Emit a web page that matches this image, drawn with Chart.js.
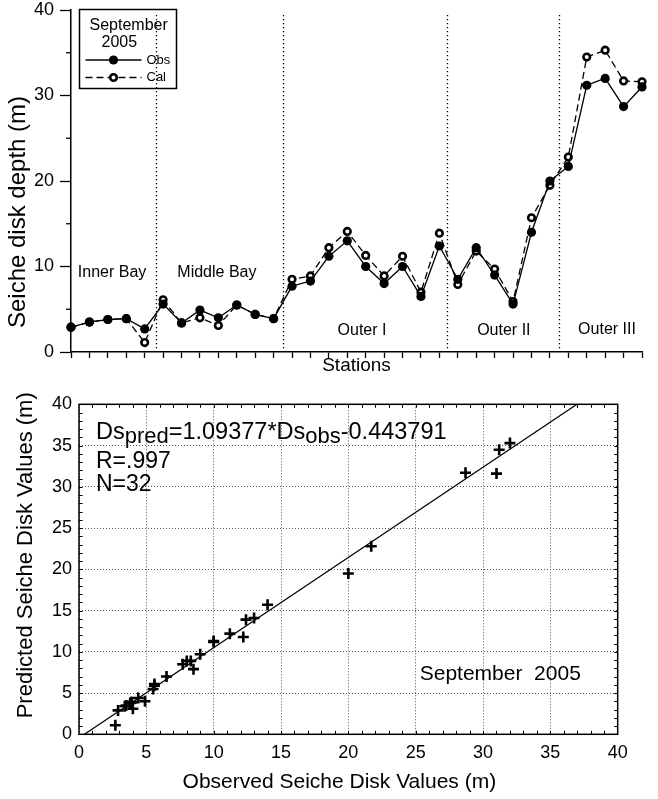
<!DOCTYPE html>
<html>
<head>
<meta charset="utf-8">
<script src="https://cdn.jsdelivr.net/npm/chart.js@4.4.1/dist/chart.umd.min.js"></script>
<style>
body{margin:0;background:#fff;}
canvas{position:absolute;left:0;}
#grafico1{top:0;}
#grafico2{top:390px;}
</style>
</head>
<body>
<canvas id="grafico1" width="658" height="390"></canvas>
<canvas id="grafico2" width="658" height="409"></canvas>
<script>
//stations along the bay (x of the top chart)
var stations = [1,2,3,4,5,6,7,8,9,10,11,12,13,14,15,16,17,18,19,20,21,22,23,24,25,26,27,28,29,30,31,32];
//observed Secchi depth (m)
var obsDepth = [2.9,3.5,3.8,3.9,2.7,5.6,3.4,4.9,4.0,5.5,4.4,3.9,7.7,8.3,11.2,13.0,10.0,8.0,10.0,6.5,12.4,8.5,12.2,9.0,5.6,14.0,20.0,21.7,31.2,32.0,28.7,31.0];
//calculated Secchi depth (m)
var calDepth = [2.9,3.5,3.8,3.9,1.1,6.1,3.4,4.0,3.1,5.5,4.4,3.9,8.5,8.9,12.2,14.1,11.3,8.9,11.2,7.0,13.9,7.9,11.8,9.7,5.9,15.7,19.5,22.8,34.5,35.3,31.7,31.6];
//region names and boundaries between regions (station units)
var regionNames = ['Inner Bay','Middle Bay','Outer I','Outer II','Outer III'];
var regionBounds = [5.6,12.5,21.4,27.5];
//regression of the lower chart
var slope = 1.09377;
var intercept = -0.443791;
var corrR = '.997';

var fam = "'Liberation Sans', Arial, Helvetica, sans-serif";
Chart.defaults.font.family = fam;
Chart.defaults.color = '#000';

//keep the plot area where the layout padding puts it
function noPad(s) {
  s.paddingTop = 0; s.paddingBottom = 0; s.paddingLeft = 0; s.paddingRight = 0;
}

//rotated axis title
function yTitle(ctx, text, size, x, y) {
  ctx.save();
  ctx.translate(x, y);
  ctx.rotate(-Math.PI / 2);
  ctx.font = size + 'px ' + fam;
  ctx.fillStyle = '#000';
  ctx.textAlign = 'center';
  ctx.textBaseline = 'middle';
  ctx.fillText(text, 0, 0);
  ctx.restore();
}

//top chart: dividers, region names, minor ticks and legend box
var topDecor = {
  id: 'topDecor',
  afterDraw(chart) {
    var ctx = chart.ctx, xs = chart.scales.x, ys = chart.scales.y, ca = chart.chartArea;
    ctx.save();
    //dotted region dividers
    ctx.strokeStyle = '#000';
    ctx.lineWidth = 1.3;
    ctx.setLineDash([1.3, 2.7]);
    regionBounds.forEach(function (b) {
      var px = Math.round(xs.getPixelForValue(b)) + 0.5;
      ctx.beginPath();
      ctx.moveTo(px, ca.top + 5);
      ctx.lineTo(px, ca.bottom);
      ctx.stroke();
    });
    ctx.setLineDash([]);
    //minor ticks of the y axis
    [5, 15, 25, 35].forEach(function (v) {
      var py = ys.getPixelForValue(v);
      ctx.beginPath();
      ctx.moveTo(ca.left - 5, py);
      ctx.lineTo(ca.left, py);
      ctx.stroke();
    });
    //region names
    var labelPos = [[3.23, 9.27], [8.92, 9.27], [16.8, 2.45], [24.5, 2.45], [30.1, 2.6]];
    ctx.fillStyle = '#000';
    ctx.font = '16px ' + fam;
    ctx.textAlign = 'center';
    ctx.textBaseline = 'middle';
    regionNames.forEach(function (n, i) {
      ctx.fillText(n, xs.getPixelForValue(labelPos[i][0]), ys.getPixelForValue(labelPos[i][1]));
    });
    //legend box
    var bx = ca.left + 8.5, by = ca.top - 0.5;
    ctx.lineWidth = 1.5;
    ctx.strokeRect(bx, by, 97, 79);
    ctx.textAlign = 'left';
    ctx.textBaseline = 'alphabetic';
    ctx.fillText('September', bx + 10, by + 20);
    ctx.fillText('2005', bx + 22, by + 37.5);
    ctx.font = '13px ' + fam;
    ctx.textBaseline = 'middle';
    chart.data.datasets.forEach(function (ds, i) {
      var ly = by + 50.5 + i * 17.5;
      ctx.strokeStyle = ds.borderColor;
      ctx.lineWidth = ds.borderWidth;
      ctx.setLineDash(ds.borderDash || []);
      ctx.beginPath();
      ctx.moveTo(bx + 6, ly);
      ctx.lineTo(bx + 62, ly);
      ctx.stroke();
      ctx.setLineDash([]);
      ctx.beginPath();
      ctx.arc(bx + 34, ly, ds.pointRadius, 0, Math.PI * 2);
      ctx.fillStyle = ds.pointBackgroundColor;
      ctx.fill();
      if (ds.pointBorderWidth) {
        ctx.lineWidth = ds.pointBorderWidth;
        ctx.strokeStyle = ds.pointBorderColor;
        ctx.stroke();
      }
      ctx.fillStyle = '#000';
      ctx.fillText(ds.label, bx + 67, ly);
    });
    ctx.restore();
    yTitle(ctx, 'Seiche disk depth (m)', 24, 18.5, (ca.top + ca.bottom) / 2 + 31);
  }
};

var chart1 = new Chart('grafico1', {
  type: 'line',
  data: {
    datasets: [{
      label: 'Obs',
      data: stations.map(function (s, i) { return {x: s, y: obsDepth[i]}; }),
      borderColor: '#000',
      borderWidth: 1.3,
      pointRadius: 4.6,
      pointBackgroundColor: '#000',
      pointBorderColor: '#000',
      pointBorderWidth: 0,
      clip: false
    }, {
      label: 'Cal',
      data: stations.map(function (s, i) { return {x: s, y: calDepth[i]}; }),
      borderColor: '#000',
      borderWidth: 1.3,
      borderDash: [7, 4],
      pointRadius: 3.3,
      pointBackgroundColor: '#fff',
      pointBorderColor: '#000',
      pointBorderWidth: 2.6,
      clip: false
    }]
  },
  options: {
    responsive: false,
    animation: false,
    layout: {padding: {top: 10, right: 16, left: 0, bottom: 0}},
    plugins: {legend: {display: false}, tooltip: {enabled: false}},
    scales: {
      x: {
        type: 'linear', min: 1, max: 32,
        ticks: {display: false, stepSize: 1},
        grid: {drawOnChartArea: false, drawTicks: true, tickLength: 6, tickWidth: 1.3, tickColor: '#000'},
        border: {color: '#000', width: 1.5},
        title: {display: true, text: 'Stations', font: {size: 19}, padding: {top: 0, bottom: 13}},
        afterFit: function (s) { s.height = 38; noPad(s); }
      },
      y: {
        min: 0, max: 40,
        ticks: {stepSize: 10, padding: 6, font: {size: 18}},
        grid: {drawOnChartArea: false, drawTicks: true, tickLength: 11, tickWidth: 1.3, tickColor: '#000'},
        border: {color: '#000', width: 1.5},
        afterFit: function (s) { s.width = 71; noPad(s); }
      }
    }
  },
  plugins: [topDecor]
});

//lower chart: frame, inner ticks and texts
var fitDecor = {
  id: 'fitDecor',
  afterDatasetsDraw(chart) {
    var ctx = chart.ctx, xs = chart.scales.x, ys = chart.scales.y, ca = chart.chartArea;
    ctx.save();
    ctx.strokeStyle = '#000';
    ctx.lineWidth = 1;
    for (var v = 1; v < 40; v++) {
      var px = Math.round(xs.getPixelForValue(v)) + 0.5;
      var py = Math.round(ys.getPixelForValue(v)) + 0.5;
      ctx.beginPath();
      ctx.moveTo(px, ca.bottom); ctx.lineTo(px, ca.bottom - 3.5);
      ctx.moveTo(px, ca.top); ctx.lineTo(px, ca.top + 3.5);
      ctx.moveTo(ca.left, py); ctx.lineTo(ca.left + 3.5, py);
      ctx.moveTo(ca.right, py); ctx.lineTo(ca.right - 3.5, py);
      ctx.stroke();
    }
    ctx.lineWidth = 1.5;
    ctx.strokeRect(ca.left, ca.top, ca.right - ca.left, ca.bottom - ca.top);
    //equation with subscripts
    ctx.fillStyle = '#000';
    ctx.textBaseline = 'alphabetic';
    ctx.textAlign = 'left';
    var big = '23.5px ' + fam, small = '22px ' + fam;
    var x = xs.getPixelForValue(1.26), y = ys.getPixelForValue(35.76);
    var parts = [['Ds', big, 0], ['pred', small, 4], ['=' + slope + '*Ds', big, 0], ['obs', small, 4], [String(intercept), big, 0]];
    parts.forEach(function (p) {
      ctx.font = p[1];
      ctx.fillText(p[0], x, y + p[2]);
      x += ctx.measureText(p[0]).width;
    });
    ctx.font = '23px ' + fam;
    var x0 = xs.getPixelForValue(1.26);
    ctx.fillText('R=' + corrR, x0, ys.getPixelForValue(32.24));
    ctx.fillText('N=' + obsDepth.length, x0, ys.getPixelForValue(29.5));
    ctx.font = '21px ' + fam;
    ctx.textBaseline = 'middle';
    ctx.fillText('September  2005', xs.getPixelForValue(25.3), ys.getPixelForValue(7.3));
    //axis titles
    ctx.textAlign = 'center';
    ctx.fillText('Observed Seiche Disk Values (m)', (ca.left + ca.right) / 2 - 9, ca.bottom + 48);
    ctx.restore();
    yTitle(ctx, 'Predicted Seiche Disk Values (m)', 22, 25.8, (ca.top + ca.bottom) / 2 - 14);
  }
};

var chart2 = new Chart('grafico2', {
  type: 'scatter',
  data: {
    datasets: [{
      label: 'Points',
      data: obsDepth.map(function (v, i) { return {x: v, y: calDepth[i]}; }),
      pointStyle: 'cross',
      pointRadius: 5.5,
      pointBorderWidth: 2.6,
      borderColor: '#000',
      backgroundColor: '#000'
    }, {
      label: 'Fit',
      data: [{x: -intercept / slope, y: 0}, {x: (40 - intercept) / slope, y: 40}],
      showLine: true,
      borderColor: '#000',
      borderWidth: 1.3,
      pointRadius: 0
    }]
  },
  options: {
    responsive: false,
    animation: false,
    layout: {padding: {top: 14.3, right: 40.3, left: 0, bottom: 0}},
    plugins: {legend: {display: false}, tooltip: {enabled: false}},
    scales: {
      x: {
        min: 0, max: 40,
        ticks: {stepSize: 5, padding: 8, font: {size: 18}},
        grid: {drawTicks: false, color: '#555', lineWidth: 1},
        border: {display: false, dash: [1, 2]},
        afterFit: function (s) { s.height = 64.7; noPad(s); }
      },
      y: {
        min: 0, max: 40,
        ticks: {stepSize: 5, padding: 7, font: {size: 18}},
        grid: {drawTicks: false, color: '#555', lineWidth: 1},
        border: {display: false, dash: [1, 2]},
        afterFit: function (s) { s.width = 79; noPad(s); }
      }
    }
  },
  plugins: [fitDecor]
});
</script>
</body>
</html>
